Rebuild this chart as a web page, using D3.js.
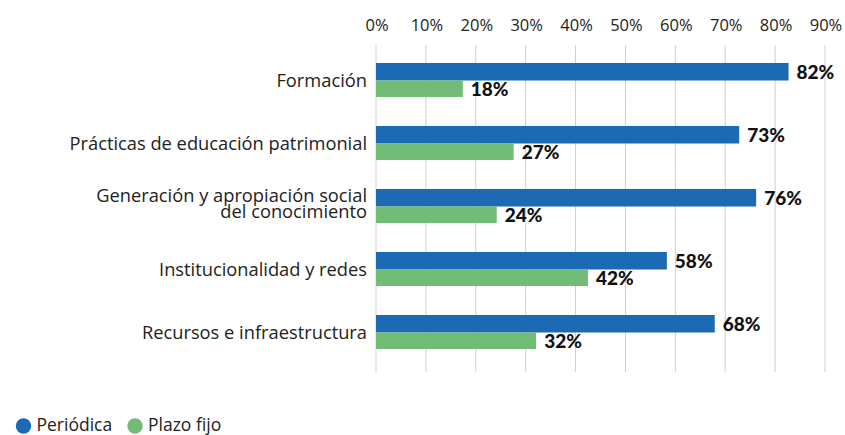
<!DOCTYPE html>
<html>
<head>
<meta charset="utf-8">
<script src="https://cdn.jsdelivr.net/npm/d3@7"></script>
<style>
  body { margin: 0; background: #fff; }
  svg text { font-family: "Open Sans", Lato, sans-serif; }
  svg text.val { font-family: Lato, "Open Sans", sans-serif; }
</style>
</head>
<body>
<svg id="chart" width="845" height="435"></svg>
<script>
var categories = [
  ["Formación"],
  ["Prácticas de educación patrimonial"],
  ["Generación y apropiación social", "del conocimiento"],
  ["Institucionalidad y redes"],
  ["Recursos e infraestructura"]
];
var periodica = [82.7, 72.8, 76.2, 58.3, 67.9];
var plazoFijo = [17.4, 27.6, 24.2, 42.5, 32.1];
var periodicaLabels = ["82%", "73%", "76%", "58%", "68%"];
var plazoFijoLabels = ["18%", "27%", "24%", "42%", "32%"];
var ticks = [0, 10, 20, 30, 40, 50, 60, 70, 80, 90];
var seriesNames = ["Periódica", "Plazo fijo"];
var colors = ["#1b6ab3", "#72bc78"];

var svg = d3.select("#chart");

var x = d3.scaleLinear().domain([0, 90]).range([376, 825]);
var y = d3.scaleBand().domain(d3.range(categories.length)).range([49, 364]);
var barH = 17.5;

// grid
svg.append("g").selectAll("line")
  .data(ticks)
  .join("line")
  .attr("x1", function(d) { return x(d); })
  .attr("x2", function(d) { return x(d); })
  .attr("y1", 45)
  .attr("y2", 372)
  .attr("stroke", "#cfcfcf")
  .attr("stroke-width", 1);

// top axis labels
svg.append("g").selectAll("text")
  .data(ticks)
  .join("text")
  .attr("x", function(d) { return x(d) + 1; })
  .attr("y", 31)
  .attr("text-anchor", "middle")
  .attr("font-size", 16.5)
  .attr("fill", "#222")
  .text(function(d) { return d + "%"; });

var rows = svg.append("g").selectAll("g")
  .data(categories)
  .join("g")
  .attr("transform", function(d, i) { return "translate(0," + (y(i) + y.bandwidth() / 2) + ")"; });

rows.append("rect")
  .attr("x", x(0))
  .attr("y", -barH)
  .attr("height", barH)
  .attr("width", function(d, i) { return x(periodica[i]) - x(0); })
  .attr("fill", colors[0]);

rows.append("rect")
  .attr("x", x(0))
  .attr("y", 0)
  .attr("height", barH - 1)
  .attr("width", function(d, i) { return x(plazoFijo[i]) - x(0); })
  .attr("fill", colors[1]);

rows.append("text")
  .attr("class", "val")
  .attr("x", function(d, i) { return x(periodica[i]) + 8; })
  .attr("y", -2)
  .attr("font-size", 19)
  .attr("font-weight", 900)
  .attr("fill", "#111")
  .text(function(d, i) { return periodicaLabels[i]; });

rows.append("text")
  .attr("class", "val")
  .attr("x", function(d, i) { return x(plazoFijo[i]) + 8; })
  .attr("y", 15)
  .attr("font-size", 19)
  .attr("font-weight", 900)
  .attr("fill", "#111")
  .text(function(d, i) { return plazoFijoLabels[i]; });

// category labels
rows.append("text")
  .attr("text-anchor", "end")
  .attr("font-size", 18.3)
  .attr("fill", "#222")
  .each(function(d) {
    var t = d3.select(this);
    var y0 = d.length > 1 ? -5 : 6;
    d.forEach(function(line, k) {
      t.append("tspan")
        .attr("x", 367)
        .attr("y", y0 + k * 16)
        .text(line);
    });
  });

// legend
var legendX = [23.5, 135];
var legend = svg.append("g").selectAll("g")
  .data(seriesNames)
  .join("g")
  .attr("transform", function(d, i) { return "translate(" + legendX[i] + ",426)"; });

legend.append("circle")
  .attr("r", 7.7)
  .attr("fill", function(d, i) { return colors[i]; });

legend.append("text")
  .attr("x", 13)
  .attr("y", 5)
  .attr("font-size", 17.5)
  .attr("fill", "#222")
  .text(function(d) { return d; });
</script>
</body>
</html>
